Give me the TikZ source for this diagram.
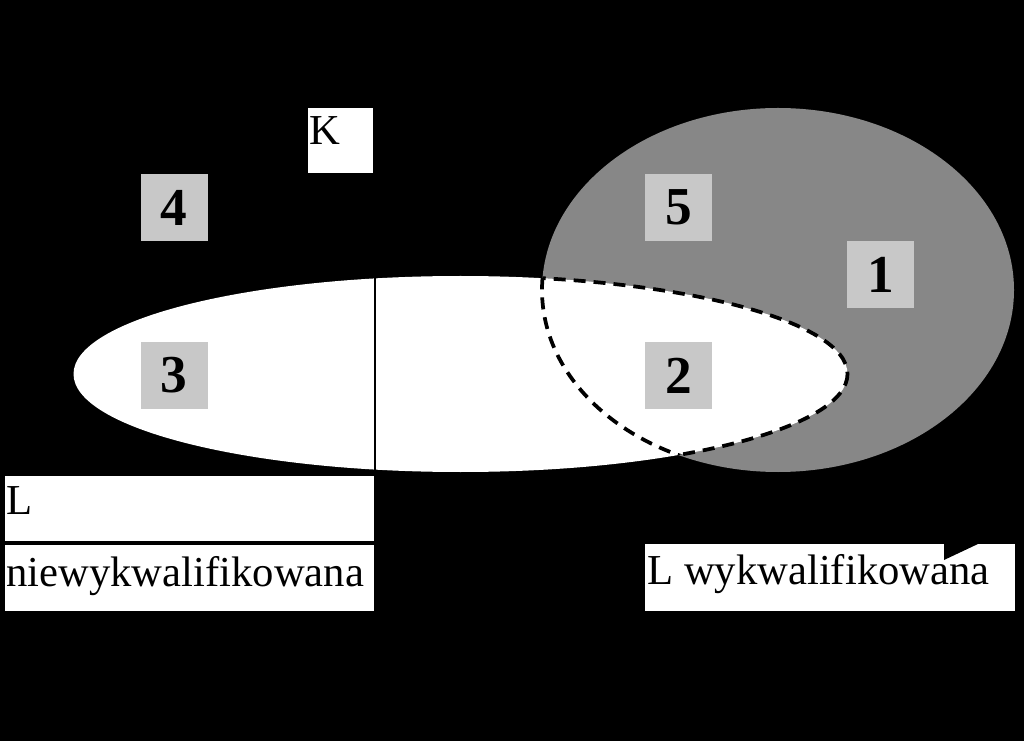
\documentclass[tikz,border=0pt]{standalone}
\usepackage{fontspec}
\setmainfont{Liberation Serif}
\definecolor{hatchgrey}{RGB}{135,135,135}
\definecolor{boxgrey}{RGB}{200,200,200}
\begin{document}
\begin{tikzpicture}[x=0.75pt,y=-0.75pt,
  numbox/.style={fill=boxgrey, minimum width=50.25pt, minimum height=50.25pt, inner sep=0pt, font=\fontsize{40}{40}\selectfont\bfseries},
  whitebox/.style={fill=white, draw=none, inner sep=0pt, anchor=north west},
  lbl/.style={inner sep=0pt, anchor=base west, font=\fontsize{32}{32}\selectfont},
  dashline/.style={draw=black, line width=2.8pt, dash pattern=on 9pt off 6pt}]
\fill[black] (0,0) rectangle (1024,741);
\useasboundingbox (0,0) rectangle (1024,741);
% skilled labour (grey) ellipse
\fill[hatchgrey] (778,290) ellipse [x radius=236, y radius=182];
% unskilled labour (white) ellipse
\fill[white] (460.5,374) ellipse [x radius=387, y radius=98];
\begin{scope}
  \clip (778,290) ellipse [x radius=236, y radius=182];
  \draw[dashline] (460.5,374) ellipse [x radius=387, y radius=98];
\end{scope}
\begin{scope}
  \clip (460.5,374) ellipse [x radius=387, y radius=98];
  \draw[dashline] (778,290) ellipse [x radius=236, y radius=182];
\end{scope}
% dividing line
\coordinate (vtop) at (375,277);
\coordinate (vbot) at (375,472);
\draw[black, line width=1.9pt] (vtop) -- (vbot);
% numbered boxes
\node[numbox] (n4) at (174,207.5) {4};
\node[numbox] (n3) at (174,375.5) {3};
\node[numbox] (n5) at (678.5,207.5) {5};
\node[numbox] (n2) at (678.5,375.5) {2};
\node[numbox] (n1) at (880.5,274.5) {1};
% K box
\node[whitebox, minimum width=48.75pt, minimum height=48.75pt] (kbox) at (308,108) {};
\node[lbl] (ktext) at (309,145) {K};
% L niewykwalifikowana boxes
\node[whitebox, minimum width=276.75pt, minimum height=48.75pt] (lbox) at (5,476) {};
\node[lbl] (ltext) at (6,514) {L};
\node[whitebox, minimum width=276.75pt, minimum height=49.5pt] (nbox) at (5,545) {};
\node[lbl] (ntext) at (6,586) {niewykwalifikowana};
% L wykwalifikowana box
\node[whitebox, minimum width=277.5pt, minimum height=50.25pt] (wbox) at (645,544) {};
\fill[black] (944,543.5) -- (979,543.5) -- (944,560) -- cycle;
\node[lbl] (wtext) at (647,584) {L wykwalifikowana};
\end{tikzpicture}
\end{document}
